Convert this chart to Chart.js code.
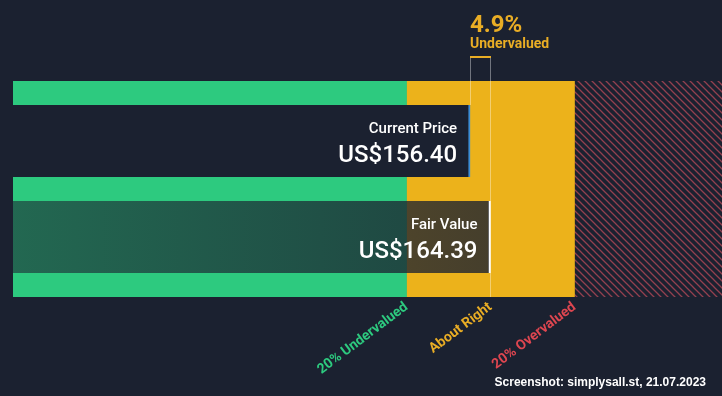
<!DOCTYPE html>
<html>
<head>
<meta charset="utf-8">
<script src="https://cdn.jsdelivr.net/npm/chart.js"></script>
<style>
html, body { margin: 0; padding: 0; background: #1b2130; }
#wrap { width: 722px; height: 396px; position: relative; }
</style>
</head>
<body>
<div id="wrap"><canvas id="valuation"></canvas></div>
<script>
// Values
var currentPrice = 156.40;
var fairValue = 164.39;
var zoneLabels = ["20% Undervalued", "About Right", "20% Overvalued"];
var zoneFactors = [0.8, 1.0, 1.2];   // tick positions, as fraction of fair value
var axisRange = [-22.5, 255];         // visible part of the price axis
var barRows = [2.5, 6.5];             // current price row, fair value row
var zoneRow = 4.5;
var creditText = "Screenshot: simplysall.st, 21.07.2023";

// Style
var bg = "#1b2130";
var green = "#2dca7f";
var yellow = "#ecb21b";
var accent = "#e9ad25";
var tickColors = ["#2dca7f", "#e9ad25", "#de4650"];

function makeHatch(ctx) {
    var c = document.createElement("canvas");
    c.width = 7; c.height = 7;
    var g = c.getContext("2d");
    g.fillStyle = bg;
    g.fillRect(0, 0, 7, 7);
    g.strokeStyle = "#93404f";
    g.lineWidth = 1.3;
    g.beginPath();
    g.moveTo(-1, -1); g.lineTo(8, 8);
    g.moveTo(-1, 6); g.lineTo(1, 8);
    g.moveTo(6, -1); g.lineTo(8, 1);
    g.stroke();
    return ctx.createPattern(c, "repeat");
}

var canvas = document.getElementById("valuation");
var hatch = makeHatch(canvas.getContext("2d"));

var lowBound = zoneFactors[0] * fairValue;
var highBound = zoneFactors[2] * fairValue;

// Texts and guide lines drawn over the bars
var annotate = {
    id: "annotate",
    afterDatasetsDraw: function (chart) {
        var ctx = chart.ctx;
        var x = chart.scales.x, y = chart.scales.y;
        var xc = Math.round(x.getPixelForValue(currentPrice));
        var xf = Math.round(x.getPixelForValue(fairValue));
        var top = 57;
        var bottom = chart.chartArea.bottom;
        var cpTop = y.getPixelForValue(barRows[0] - 1.5);

        ctx.save();
        // guide lines
        ctx.strokeStyle = "rgba(255,255,255,0.38)";
        ctx.lineWidth = 1;
        ctx.beginPath();
        ctx.moveTo(xc + 0.5, top); ctx.lineTo(xc + 0.5, cpTop);
        ctx.moveTo(xf + 0.5, top); ctx.lineTo(xf + 0.5, bottom);
        ctx.stroke();
        ctx.strokeStyle = accent;
        ctx.lineWidth = 2;
        ctx.beginPath();
        ctx.moveTo(xc, top); ctx.lineTo(xf + 1, top);
        ctx.stroke();

        // percentage
        var diff = (fairValue - currentPrice) / fairValue * 100;
        ctx.fillStyle = accent;
        ctx.textAlign = "left";
        ctx.textBaseline = "alphabetic";
        ctx.font = "bold 24px Roboto";
        ctx.fillText(Math.abs(diff).toFixed(1) + "%", xc, 32);
        ctx.font = "bold 14px Roboto";
        ctx.fillText(diff > 0 ? "Undervalued" : "Overvalued", xc, 48);

        // bar labels
        var rows = [
            { name: "Current Price", value: currentPrice, row: barRows[0] },
            { name: "Fair Value", value: fairValue, row: barRows[1] }
        ];
        ctx.fillStyle = "#ffffff";
        ctx.textAlign = "right";
        rows.forEach(function (r) {
            var px = x.getPixelForValue(r.value) - 13;
            var cy = y.getPixelForValue(r.row);
            ctx.font = "500 15px Roboto";
            ctx.fillText(r.name, px, cy - 8);
            ctx.font = "500 24px Roboto";
            ctx.fillText("US$" + r.value.toFixed(2), px, cy + 21);
        });

        // credit
        ctx.font = "bold 12px 'Liberation Sans', Arial";
        ctx.fillText(creditText, 706, 386);
        ctx.restore();
    }
};

new Chart(canvas, {
    type: "bar",
    data: {
        datasets: [
            {
                label: "Current Price",
                data: [{ x: [axisRange[0], currentPrice], y: barRows[0] }],
                backgroundColor: bg,
                borderColor: "#3b8dd6",
                borderWidth: { right: 2, left: 0, top: 0, bottom: 0 },
                borderSkipped: false,
                barThickness: 72,
                order: 0
            },
            {
                label: "Fair Value",
                data: [{ x: [axisRange[0], fairValue], y: barRows[1] }],
                backgroundColor: function (c) {
                    var ca = c.chart.chartArea;
                    if (!ca) return "rgba(27,33,48,0.7)";
                    var g = c.chart.ctx.createLinearGradient(ca.left, 0, c.chart.scales.x.getPixelForValue(fairValue), 0);
                    g.addColorStop(0, "rgba(27,33,48,0.58)");
                    g.addColorStop(1, "rgba(27,33,48,0.8)");
                    return g;
                },
                borderColor: "#ffffff",
                borderWidth: { right: 2, left: 0, top: 0, bottom: 0 },
                borderSkipped: false,
                barThickness: 72,
                order: 0
            },
            {
                label: zoneLabels[0],
                data: [{ x: [axisRange[0], lowBound], y: zoneRow }],
                backgroundColor: green,
                barThickness: 216,
                order: 1
            },
            {
                label: zoneLabels[1],
                data: [{ x: [lowBound, highBound], y: zoneRow }],
                backgroundColor: yellow,
                barThickness: 216,
                order: 1
            },
            {
                label: zoneLabels[2],
                data: [{ x: [highBound, axisRange[1]], y: zoneRow }],
                backgroundColor: hatch,
                barThickness: 216,
                order: 1
            }
        ]
    },
    options: {
        indexAxis: "y",
        responsive: true,
        maintainAspectRatio: false,
        animation: false,
        events: [],
        layout: { padding: { left: 13, right: 0, top: 81, bottom: 0 } },
        datasets: { bar: { grouped: false } },
        plugins: { legend: { display: false }, tooltip: { enabled: false } },
        scales: {
            x: {
                type: "linear",
                min: axisRange[0],
                max: axisRange[1],
                grid: { display: false, drawTicks: false },
                border: { display: false },
                afterBuildTicks: function (s) {
                    s.ticks = zoneFactors.map(function (f) { return { value: f * fairValue }; });
                },
                afterFit: function (s) { s.height = 99; },
                ticks: {
                    autoSkip: false,
                    minRotation: 37,
                    maxRotation: 37,
                    padding: 2,
                    font: { family: "Roboto", size: 14, weight: "bold" },
                    color: function (c) { return tickColors[c.index]; },
                    callback: function (v, i) { return zoneLabels[i]; }
                }
            },
            y: {
                type: "linear",
                display: false,
                reverse: true,
                offset: false,
                min: 0,
                max: 9
            }
        }
    },
    plugins: [annotate]
});
</script>
</body>
</html>
